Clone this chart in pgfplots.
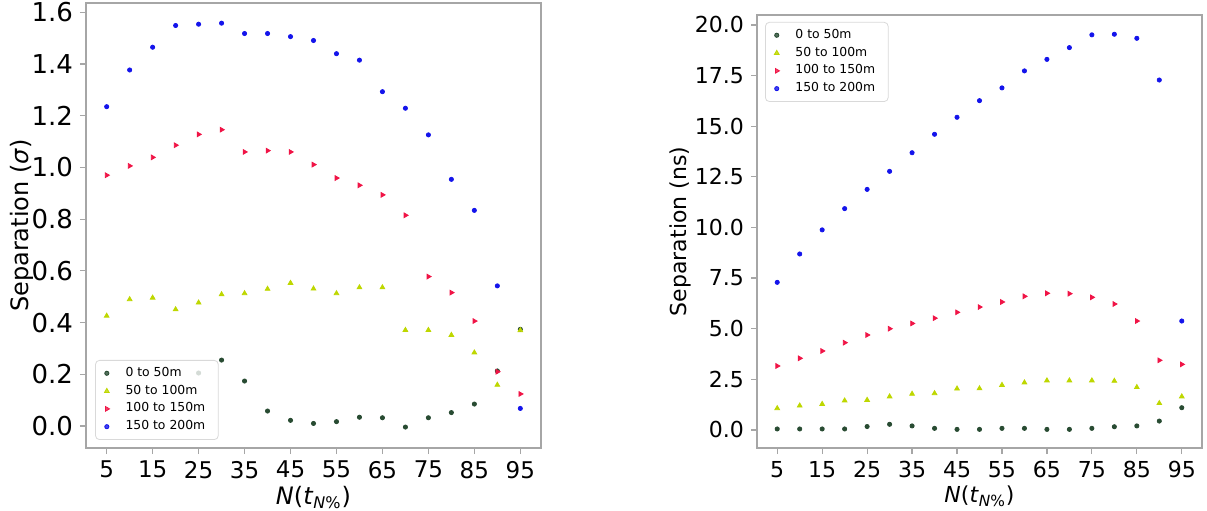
\documentclass[border=0pt]{standalone}
\usepackage{pgfplots}
\pgfplotsset{compat=1.18}
\usepackage{fontspec}
\setmainfont{DejaVu Sans}
\definecolor{darkpt}{RGB}{40,75,50}
\definecolor{ygpt}{RGB}{190,215,0}
\definecolor{redpt}{RGB}{240,20,70}
\definecolor{bluept}{RGB}{20,20,235}
\pgfplotsset{
  sepax/.style={
    scale only axis,
    xmin=0.5, xmax=99.5,
    xtick={5,15,...,95},
    tick align=outside,
    xtick pos=left, ytick pos=left,
    major tick length=3pt,
    axis line style={gray!70, line width=0.6pt},
    every tick/.style={gray!70, line width=0.6pt},
    /pgf/number format/assume math mode=true,
    legend cell align=left,
    legend style={draw=gray!30, rounded corners=2pt, fill=white, fill opacity=0.8, text opacity=1,
      font=\fontsize{6.2}{7.2}\selectfont, row sep=0pt, inner xsep=4.5pt, inner ysep=2pt,
      nodes={inner ysep=1.4pt},
      /tikz/every odd column/.append style={column sep=6pt}},
  },
  m0/.style={only marks, mark=*, mark size=1.05pt, color=darkpt},
  m1/.style={only marks, mark=triangle*, mark size=1.35pt, color=ygpt},
  m2/.style={only marks, mark=triangle*, mark size=1.35pt, color=redpt, mark options={rotate=-90}},
  m3/.style={only marks, mark=*, mark size=1.05pt, color=bluept},
}
\begin{document}
\begin{tikzpicture}[x=0.5pt,y=0.5pt]
\path[use as bounding box] (0,0) rectangle (1207,510);
\begin{axis}[sepax,
  at={(43pt,31pt)}, anchor=south west,
  width=227.5pt, height=222.5pt,
  ymin=-0.085, ymax=1.636,
  ytick={0,0.2,...,1.6},
  yticklabel style={/pgf/number format/fixed, /pgf/number format/fixed zerofill, /pgf/number format/precision=1, font=\fontsize{13}{15}\selectfont},
  xticklabel style={font=\fontsize{11.5}{13}\selectfont},
  ylabel={Separation (\textit{σ})},
  xlabel={\textit{N}(\textit{t}\textsubscript{\textit{N}\%})},
  label style={font=\fontsize{12}{14}\selectfont},
  ylabel style={yshift=-8pt},
  xlabel style={yshift=3pt},
  legend style={at={(0.02,0.018)}, anchor=south west},
]
\addplot[m0] coordinates {(25,0.205)(30,0.255)(35,0.174)(40,0.058)(45,0.022)(50,0.010)(55,0.017)(60,0.034)(65,0.032)(70,-0.004)(75,0.032)(80,0.052)(85,0.085)(90,0.213)(95,0.374)};
\addlegendentry{0 to 50m}
\addplot[m1] coordinates {(5,0.426)(10,0.490)(15,0.496)(20,0.451)(25,0.477)(30,0.509)(35,0.513)(40,0.530)(45,0.553)(50,0.531)(55,0.513)(60,0.536)(65,0.536)(70,0.371)(75,0.371)(80,0.352)(85,0.284)(90,0.159)(95,0.370)};
\addlegendentry{50 to 100m}
\addplot[m2] coordinates {(5,0.970)(10,1.006)(15,1.039)(20,1.086)(25,1.128)(30,1.146)(35,1.060)(40,1.065)(45,1.060)(50,1.011)(55,0.959)(60,0.931)(65,0.894)(70,0.815)(75,0.578)(80,0.516)(85,0.406)(90,0.210)(95,0.124)};
\addlegendentry{100 to 150m}
\addplot[m3] coordinates {(5,1.235)(10,1.377)(15,1.465)(20,1.549)(25,1.554)(30,1.558)(35,1.518)(40,1.518)(45,1.506)(50,1.491)(55,1.440)(60,1.415)(65,1.293)(70,1.229)(75,1.126)(80,0.954)(85,0.834)(90,0.542)(95,0.068)};
\addlegendentry{150 to 200m}
\end{axis}
\begin{axis}[sepax,
  at={(378.5pt,31pt)}, anchor=south west,
  width=222.5pt, height=216.5pt,
  ymin=-0.89, ymax=20.49,
  ytick={0,2.5,...,20},
  yticklabel style={/pgf/number format/fixed, /pgf/number format/fixed zerofill, /pgf/number format/precision=1},
  tick label style={font=\fontsize{11}{13}\selectfont},
  ylabel={Separation (ns)},
  xlabel={\textit{N}(\textit{t}\textsubscript{\textit{N}\%})},
  label style={font=\fontsize{11}{13}\selectfont},
  ylabel style={yshift=-5pt},
  xlabel style={yshift=3pt},
  legend style={at={(0.018,0.984)}, anchor=north west},
]
\addplot[m0] coordinates {(5,0.05)(10,0.05)(15,0.05)(20,0.05)(25,0.17)(30,0.28)(35,0.20)(40,0.08)(45,0.03)(50,0.03)(55,0.08)(60,0.08)(65,0.03)(70,0.03)(75,0.08)(80,0.16)(85,0.20)(90,0.44)(95,1.10)};
\addlegendentry{0 to 50m}
\addplot[m1] coordinates {(5,1.07)(10,1.20)(15,1.28)(20,1.45)(25,1.48)(30,1.65)(35,1.78)(40,1.81)(45,2.04)(50,2.05)(55,2.22)(60,2.34)(65,2.44)(70,2.44)(75,2.44)(80,2.42)(85,2.11)(90,1.32)(95,1.65)};
\addlegendentry{50 to 100m}
\addplot[m2] coordinates {(5,3.16)(10,3.54)(15,3.90)(20,4.31)(25,4.69)(30,5.00)(35,5.26)(40,5.52)(45,5.81)(50,6.07)(55,6.32)(60,6.60)(65,6.75)(70,6.73)(75,6.55)(80,6.22)(85,5.38)(90,3.44)(95,3.24)};
\addlegendentry{100 to 150m}
\addplot[m3] coordinates {(5,7.29)(10,8.69)(15,9.88)(20,10.93)(25,11.88)(30,12.77)(35,13.69)(40,14.60)(45,15.44)(50,16.26)(55,16.89)(60,17.73)(65,18.30)(70,18.88)(75,19.51)(80,19.54)(85,19.34)(90,17.28)(95,5.38)};
\addlegendentry{150 to 200m}
\end{axis}
\end{tikzpicture}
\end{document}
